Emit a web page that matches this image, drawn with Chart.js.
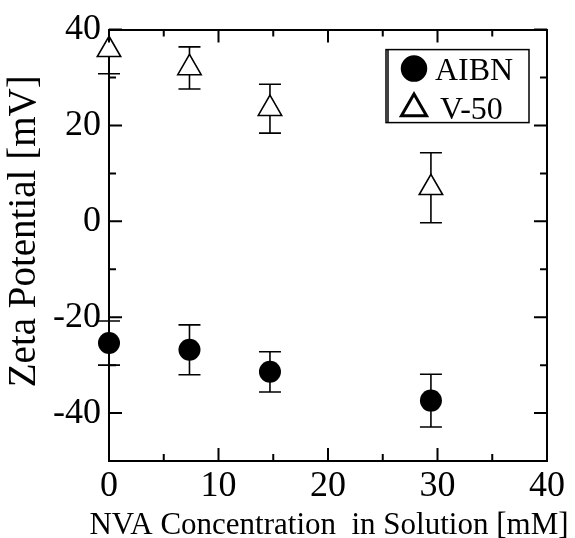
<!DOCTYPE html>
<html>
<head>
<meta charset="utf-8">
<script src="https://cdn.jsdelivr.net/npm/chart.js@4.4.1/dist/chart.umd.min.js"></script>
<style>
  html, body { margin: 0; padding: 0; background: #fff; }
  #wrap { width: 575px; height: 538px; }
</style>
</head>
<body>
<div id="wrap"><canvas id="chart"></canvas></div>
<script>
// values
const concentration = [0, 7.35, 14.7, 29.4];
const aibnZeta = [-25.4, -26.8, -31.4, -37.4];
const aibnErr = [4.6, 5.2, 4.2, 5.5];
const v50Zeta = [35.8, 32.0, 23.5, 7.0];
const v50Err = [5.0, 4.4, 5.1, 7.3];
const seriesNames = ['AIBN', 'V-50'];
const xTicks = [0, 10, 20, 30, 40];
const xMinor = [5, 15, 25, 35];
const yTicks = [-40, -20, 0, 20, 40];
const yMinor = [-30, -10, 10, 30];
const xTitle = 'NVA Concentration  in Solution [mM]';
const yTitle = 'Zeta Potential [mV]';

const serif = "'Liberation Serif', 'Times New Roman', serif";

function points(ys) {
    return concentration.map((c, i) => ({ x: c, y: ys[i] }));
}

// vertical error bars with caps, drawn under the markers
const errorBars = {
    id: 'errorBars',
    beforeDatasetsDraw(chart) {
        const { ctx, chartArea, scales: { x, y } } = chart;
        ctx.save();
        ctx.beginPath();
        ctx.rect(0, chartArea.top, chart.width, chartArea.bottom - chartArea.top);
        ctx.clip();
        ctx.strokeStyle = '#000';
        ctx.lineWidth = 1.6;
        chart.data.datasets.forEach(ds => {
            ds.errors.forEach((e, i) => {
                const px = x.getPixelForValue(ds.data[i].x);
                const top = y.getPixelForValue(ds.data[i].y + e);
                const bot = y.getPixelForValue(ds.data[i].y - e);
                ctx.beginPath();
                ctx.moveTo(px, top); ctx.lineTo(px, bot);
                ctx.moveTo(px - 11, top); ctx.lineTo(px + 11, top);
                ctx.moveTo(px - 11, bot); ctx.lineTo(px + 11, bot);
                ctx.stroke();
            });
        });
        ctx.restore();
    }
};

// inward ticks on all four sides, legend box and the axis titles
// (titles drawn here since Chart.js squeezes them to the plot width)
const frame = {
    id: 'frame',
    afterDraw(chart) {
        const { ctx, chartArea: a, scales: { x, y } } = chart;
        ctx.save();
        ctx.strokeStyle = '#000';
        ctx.lineWidth = 2;
        ctx.beginPath();
        const xt = (v, len) => {
            const px = x.getPixelForValue(v);
            ctx.moveTo(px, a.bottom); ctx.lineTo(px, a.bottom - len);
            ctx.moveTo(px, a.top); ctx.lineTo(px, a.top + len);
        };
        const yt = (v, len) => {
            const py = y.getPixelForValue(v);
            ctx.moveTo(a.left, py); ctx.lineTo(a.left + len, py);
            ctx.moveTo(a.right, py); ctx.lineTo(a.right - len, py);
        };
        xTicks.forEach(v => xt(v, 13));
        xMinor.forEach(v => xt(v, 7));
        yTicks.forEach(v => yt(v, 13));
        yMinor.forEach(v => yt(v, 7));
        ctx.stroke();

        // legend
        const bx = a.right - 161, by = a.top + 20, bw = 143, bh = 73;
        ctx.lineWidth = 1.5;
        ctx.strokeRect(bx, by, bw, bh);
        ctx.beginPath();
        ctx.moveTo(bx + 2, by); ctx.lineTo(bx + 2, by + bh);
        ctx.stroke();
        ctx.font = '32px ' + serif;
        ctx.textBaseline = 'alphabetic';
        ctx.textAlign = 'left';
        chart.data.datasets.forEach((ds, i) => {
            const cy = by + 19 + i * 37;
            ctx.fillStyle = ds.backgroundColor;
            ctx.strokeStyle = '#000';
            ctx.lineWidth = i === 0 ? 0 : 3;
            Chart.helpers.drawPoint(ctx, {
                pointStyle: ds.pointStyle,
                radius: i === 0 ? 12.5 : 14.5,
                rotation: 0,
                borderWidth: ctx.lineWidth
            }, bx + 28, cy + (i === 0 ? 0 : 3));
            ctx.fillStyle = '#000';
            ctx.fillText(ds.label, bx + (i === 0 ? 49 : 54), cy + (i === 0 ? 11 : 13));
        });

        // x axis title
        ctx.fillStyle = '#000';
        ctx.font = '31px ' + serif;
        ctx.textAlign = 'center';
        ctx.textBaseline = 'alphabetic';
        ctx.fillText(xTitle, (a.left + a.right) / 2 + 1, a.bottom + 73);

        // y axis title
        ctx.save();
        ctx.translate(25, (a.top + a.bottom) / 2 - 14);
        ctx.rotate(-Math.PI / 2);
        ctx.font = '39px ' + serif;
        ctx.textAlign = 'center';
        ctx.textBaseline = 'middle';
        ctx.fillText(yTitle, 0, 0);
        ctx.restore();
        ctx.restore();
    }
};

const noGrid = { drawOnChartArea: false, drawTicks: false };
const edge = { display: true, color: '#000', width: 2 };

new Chart(document.getElementById('chart'), {
    type: 'scatter',
    data: {
        datasets: [
            {
                label: seriesNames[0],
                data: points(aibnZeta),
                errors: aibnErr,
                pointStyle: 'circle',
                pointRadius: 11,
                backgroundColor: '#000',
                borderColor: '#000',
                borderWidth: 0,
                clip: false
            },
            {
                label: seriesNames[1],
                data: points(v50Zeta),
                errors: v50Err,
                pointStyle: 'triangle',
                pointRadius: 13.5,
                backgroundColor: '#fff',
                borderColor: '#000',
                borderWidth: 1.6,
                clip: false
            }
        ]
    },
    options: {
        responsive: true,
        maintainAspectRatio: false,
        animation: false,
        events: [],
        layout: { padding: 0 },
        plugins: { legend: { display: false }, tooltip: { enabled: false } },
        scales: {
            x: {
                type: 'linear', position: 'bottom', min: 0, max: 40,
                afterBuildTicks: s => { s.ticks = xTicks.map(v => ({ value: v })); },
                ticks: { color: '#000', padding: 4, font: { family: serif, size: 36 } },
                grid: noGrid, border: edge,
                afterFit: s => { s.height = 77; }
            },
            x2: {
                type: 'linear', position: 'top', min: 0, max: 40,
                ticks: { display: false }, grid: noGrid, border: edge,
                afterFit: s => { s.height = 26; }
            },
            y: {
                type: 'linear', position: 'left', min: -50, max: 40,
                afterBuildTicks: s => { s.ticks = yTicks.map(v => ({ value: v })); },
                ticks: { color: '#000', padding: 8, font: { family: serif, size: 36 } },
                grid: noGrid, border: edge,
                afterFit: s => { s.width = 109; }
            },
            y2: {
                type: 'linear', position: 'right', min: -50, max: 40,
                ticks: { display: false }, grid: noGrid, border: edge,
                afterFit: s => { s.width = 28; }
            }
        }
    },
    plugins: [errorBars, frame]
});
</script>
</body>
</html>
